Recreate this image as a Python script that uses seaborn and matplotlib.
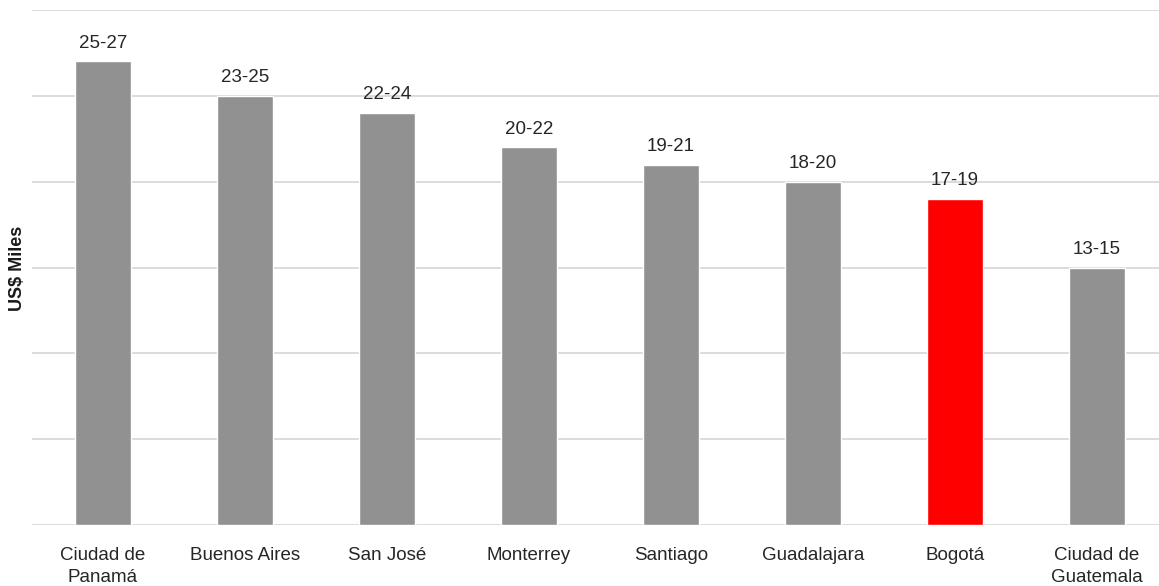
import matplotlib
matplotlib.use("Agg")
import matplotlib.pyplot as plt
import seaborn as sns
import pandas as pd

cities = ["Ciudad de\nPanamá", "Buenos Aires", "San José", "Monterrey",
          "Santiago", "Guadalajara", "Bogotá", "Ciudad de\nGuatemala"]
range_low = [25, 23, 22, 20, 19, 18, 17, 13]
range_high = [27, 25, 24, 22, 21, 20, 19, 15]
highlight = "Bogotá"
y_ticks = [0, 5, 10, 15, 20, 25, 30]

sns.set_theme(style="white")
plt.rcParams["font.family"] = ["Liberation Sans", "DejaVu Sans"]

df = pd.DataFrame({"ciudad": cities, "alto": range_high})
palette = {c: ("#FF0000" if c == highlight else "#919191") for c in cities}

fig = plt.figure(figsize=(11.59, 5.86), dpi=100)
ax = fig.add_axes([32 / 1159, 1 - 525 / 586, 1136 / 1159, 515 / 586])

sns.barplot(data=df, x="ciudad", y="alto", hue="ciudad", palette=palette,
            width=0.4, saturation=1, legend=False, ax=ax)

for i, (lo, hi) in enumerate(zip(range_low, range_high)):
    ax.annotate(f"{lo}-{hi}", (i, hi), xytext=(0, 7), textcoords="offset points",
                ha="center", va="bottom", fontsize=13.5, color="#262626")

ax.set_ylim(0, 30)
ax.set_yticks(y_ticks)
ax.set_yticklabels([])
ax.tick_params(axis="y", length=0)
ax.tick_params(axis="x", length=0, pad=16, labelsize=13.5, labelcolor="#262626")
for lbl in ax.get_xticklabels():
    lbl.set_linespacing(1.35)
ax.yaxis.grid(True, color="#d9d9d9", linewidth=1.3)
ax.set_axisbelow(True)
for s in ax.spines.values():
    s.set_visible(False)
ax.set_xlabel("")
ax.set_ylabel("")
fig.text(18 / 1159, 1 - 268 / 586, "US$ Miles", rotation=90, ha="center", va="center",
         fontsize=13, fontweight="bold", color="#1a1a1a")

fig.savefig("out.png", dpi=100)
